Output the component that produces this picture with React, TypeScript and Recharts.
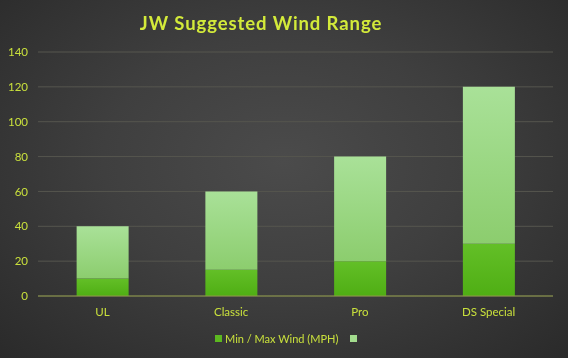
import { Bar, BarChart, CartesianGrid, XAxis, YAxis } from "recharts";

const categories = ["UL", "Classic", "Pro", "DS Special"];
const minWind = [10, 15, 20, 30];
const maxWind = [40, 60, 80, 120];
const yTicks = [0, 20, 40, 60, 80, 100, 120, 140];

const data = categories.map((name, i) => ({
  name,
  min: minWind[i],
  range: maxWind[i] - minWind[i],
}));

const textColor = "#c9e03c";

export default function App() {
  return (
    <div
      style={{
        position: "fixed",
        left: 0,
        top: 0,
        width: 568,
        height: 358,
        background: "radial-gradient(ellipse at 50% 45%, #4b4b4b 0%, #3f3f3f 45%, #2a2a2a 100%)",
        fontFamily: "Lato, 'Open Sans', sans-serif",
      }}
    >
      <div
        style={{
          position: "absolute",
          top: 12,
          left: 0,
          width: 522,
          textAlign: "center",
          color: "#d3ea3a",
          fontSize: 18.5,
          fontWeight: 700,
          letterSpacing: 0.9,
        }}
      >
        JW Suggested Wind Range
      </div>
      <BarChart
        width={568}
        height={358}
        data={data}
        margin={{ top: 52, right: 15, bottom: 32, left: 0 }}
        barCategoryGap="30%"
      >
        <defs>
          <linearGradient id="gMin" x1="0" y1="0" x2="0" y2="1">
            <stop offset="0%" stopColor="#63bf27" />
            <stop offset="100%" stopColor="#4fae14" />
          </linearGradient>
          <linearGradient id="gRange" x1="0" y1="0" x2="0" y2="1">
            <stop offset="0%" stopColor="#a9e198" />
            <stop offset="100%" stopColor="#8ccd6e" />
          </linearGradient>
        </defs>
        <CartesianGrid vertical={false} stroke="#56564e" />
        <XAxis
          dataKey="name"
          tickLine={false}
          axisLine={{ stroke: "#8f9a48" }}
          tick={{ fill: textColor, fontSize: 11.5 }}
          tickMargin={6}
        />
        <YAxis
          width={38}
          domain={[0, 140]}
          ticks={yTicks}
          tickLine={false}
          axisLine={false}
          tick={{ fill: textColor, fontSize: 11.5, dx: -2 }}
        />
        <Bar dataKey="min" stackId="a" fill="url(#gMin)" isAnimationActive={false} />
        <Bar dataKey="range" stackId="a" fill="url(#gRange)" isAnimationActive={false} />
      </BarChart>
      <div
        style={{
          position: "absolute",
          top: 332,
          left: 215,
          display: "flex",
          alignItems: "center",
          color: textColor,
          fontSize: 11,
        }}
      >
        <span style={{ width: 7, height: 7, background: "#5cb820", marginRight: 3 }} />
        <span>Min / Max Wind (MPH)</span>
        <span style={{ width: 7, height: 7, background: "#a3dc8e", marginLeft: 12 }} />
      </div>
    </div>
  );
}
